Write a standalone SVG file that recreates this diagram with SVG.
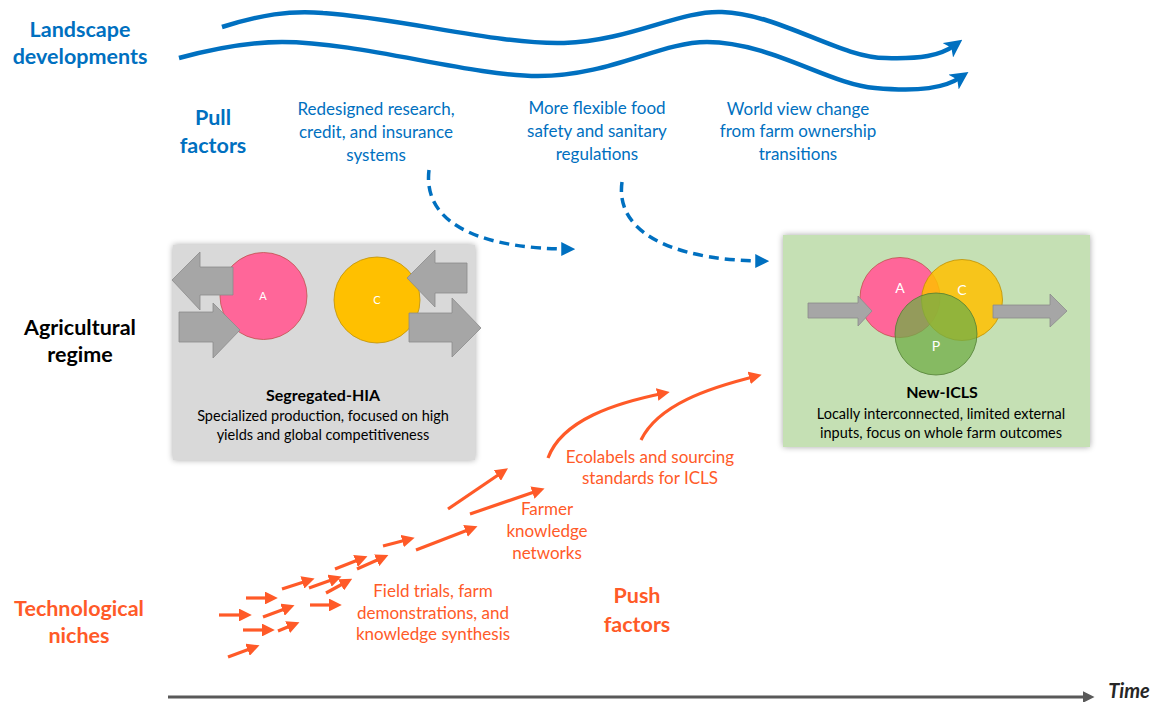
<svg xmlns="http://www.w3.org/2000/svg" width="1156" height="702" viewBox="0 0 1156 702">
<style>
text{font-family:Lato,"Liberation Sans",sans-serif}
.lbl{font-size:21.5px;font-weight:bold;text-anchor:middle}
.blue{fill:#0070C0}
.orange{fill:#FF5A28}
.black{fill:#000}
.bt{font-size:17px;text-anchor:middle;fill:#0070C0}
.ot{font-size:17px;text-anchor:middle;fill:#FF5A28}
.bx{font-size:14.5px;text-anchor:middle;fill:#000}
.bxh{font-size:16px;font-weight:bold;text-anchor:middle;fill:#000}
.garrow{fill:#A6A6A6;stroke:#8C8C8C;stroke-width:0.8}
.wave{fill:none;stroke:#0070C0;stroke-width:4.5;marker-end:url(#mb)}
.dash{fill:none;stroke:#0070C0;stroke-width:3.5;stroke-dasharray:10 6;marker-end:url(#mbd)}
.oa{fill:none;stroke:#FF5A28;stroke-width:3.2;marker-end:url(#mo)}
.cl{font-size:11px;fill:#fff;text-anchor:middle}
.cl2{font-size:14px;fill:#fff;text-anchor:middle}
</style>
<defs>
<marker id="mb" markerWidth="4" markerHeight="4" refX="2" refY="2" orient="auto" markerUnits="strokeWidth"><path d="M0,0 L4,2 L0,4 L1,2 z" fill="#0070C0"/></marker>
<marker id="mbd" markerWidth="4" markerHeight="4" refX="2.5" refY="2" orient="auto" markerUnits="strokeWidth"><path d="M0,0 L4,2 L0,4 z" fill="#0070C0"/></marker>
<marker id="mo" markerWidth="4" markerHeight="4" refX="2.5" refY="2" orient="auto" markerUnits="strokeWidth"><path d="M0,0 L4,2 L0,4 z" fill="#FF5A28"/></marker>
<marker id="mg" markerWidth="4" markerHeight="4" refX="2.5" refY="2" orient="auto" markerUnits="strokeWidth"><path d="M0,0 L4,2 L0,4 z" fill="#595959"/></marker>
<filter id="sh" x="-10%" y="-10%" width="120%" height="120%"><feGaussianBlur in="SourceAlpha" stdDeviation="3"/><feOffset dx="0" dy="0"/><feComponentTransfer><feFuncA type="linear" slope="0.35"/></feComponentTransfer><feMerge><feMergeNode/><feMergeNode in="SourceGraphic"/></feMerge></filter>
</defs>

<g id="labels">
<text class="lbl blue" x="80" y="37">Landscape</text>
<text class="lbl blue" x="80" y="64">developments</text>
<text class="lbl blue" x="213" y="125">Pull</text>
<text class="lbl blue" x="213" y="153">factors</text>
<text class="lbl black" x="80" y="335">Agricultural</text>
<text class="lbl black" x="80" y="362">regime</text>
<text class="lbl orange" x="79" y="616">Technological</text>
<text class="lbl orange" x="79" y="643">niches</text>
<text class="lbl orange" x="637" y="603">Push</text>
<text class="lbl orange" x="637" y="632">factors</text>
</g>

<g id="pull-texts">
<text class="bt" x="376" y="115">Redesigned research,</text>
<text class="bt" x="376" y="138">credit, and insurance</text>
<text class="bt" x="376" y="161">systems</text>
<text class="bt" x="597" y="114">More flexible food</text>
<text class="bt" x="597" y="137">safety and sanitary</text>
<text class="bt" x="597" y="160">regulations</text>
<text class="bt" x="798" y="115">World view change</text>
<text class="bt" x="798" y="137">from farm ownership</text>
<text class="bt" x="798" y="160">transitions</text>
</g>

<g id="push-texts">
<text class="ot" x="650" y="463">Ecolabels and sourcing</text>
<text class="ot" x="650" y="484">standards for ICLS</text>
<text class="ot" x="547" y="515">Farmer</text>
<text class="ot" x="547" y="537">knowledge</text>
<text class="ot" x="547" y="559">networks</text>
<text class="ot" x="433" y="597">Field trials, farm</text>
<text class="ot" x="433" y="619">demonstrations, and</text>
<text class="ot" x="433" y="640">knowledge synthesis</text>
</g>

<g id="segregated-hia">
<rect x="173" y="245" width="302" height="215" fill="#D9D9D9" filter="url(#sh)"/>
<circle cx="263.5" cy="296" r="43.5" fill="#FF6699" stroke="#C0504D" stroke-width="0.8"/>
<circle cx="377" cy="300" r="43" fill="#FFC000" stroke="#BF9000" stroke-width="0.8"/>
<polygon class="garrow" points="172,280 200,252 200,267 233,267 233,295 200,295 200,310"/>
<polygon class="garrow" points="179,312 213,312 213,303 240,330 213,358 213,342 179,342"/>
<polygon class="garrow" points="407,278 435,250 435,263 467,263 467,293 435,293 435,307"/>
<polygon class="garrow" points="409,313 452,313 452,298 481,328 452,357 452,342 409,342"/>
<text class="cl" x="263" y="300">A</text>
<text class="cl" x="377" y="304">C</text>
<text class="bxh" x="323" y="401">Segregated-HIA</text>
<text class="bx" x="323" y="421">Specialized production, focused on high</text>
<text class="bx" x="323" y="440">yields and global competitiveness</text>
</g>

<g id="new-icls">
<rect x="783" y="235" width="307" height="212" fill="#C5E0B4" filter="url(#sh)"/>
<circle cx="900" cy="297.5" r="40" fill="#FF6699" stroke="#C0504D" stroke-width="0.8"/>
<circle cx="962" cy="300" r="40.5" fill="#FFC000" fill-opacity="0.85" stroke="#BF9000" stroke-width="0.8"/>
<circle cx="936" cy="334" r="41" fill="#70AD47" fill-opacity="0.75" stroke="#507E32" stroke-width="0.8"/>
<polygon class="garrow" points="808,303 858,303 858,296 872,311 858,326 858,318 808,318"/>
<polygon class="garrow" points="993,305 1050,305 1050,294 1067,311 1050,327 1050,318 993,318"/>
<text class="cl2" x="900" y="293">A</text>
<text class="cl2" x="962" y="295">C</text>
<text class="cl2" x="936" y="351">P</text>
<text class="bxh" x="942" y="398">New-ICLS</text>
<text class="bx" x="941" y="419">Locally interconnected, limited external</text>
<text class="bx" x="941" y="438">inputs, focus on whole farm outcomes</text>
</g>

<g id="connectors">
<path class="wave" d="M222,27 C260,15 290,10 323,13 C400,18 500,45 564,43 C630,41 680,10 722,12 C780,14 840,58 886,58 C920,59 940,56 955,45"/>
<path class="wave" d="M179,58 C220,47 250,42 282,42 C360,42 470,76 538,76 C610,76 660,42 707,42 C770,42 830,85 875,88 C920,92 945,88 961,77"/>
<path class="dash" d="M429,170 C422,228 490,249 570,249"/>
<path class="dash" d="M622,182 C614,240 690,261 764,261"/>
<path class="oa" d="M448,509 L504,471"/>
<path class="oa" d="M470,514 L540,490"/>
<path class="oa" d="M416,550 L473,528"/>
<path class="oa" d="M383,546 L410,539"/>
<path class="oa" d="M357,569 L384,557"/>
<path class="oa" d="M335,569 L363,558"/>
<path class="oa" d="M309,588 L337,578"/>
<path class="oa" d="M326,593 L348,581"/>
<path class="oa" d="M282,589 L310,580"/>
<path class="oa" d="M246,598 L273,598"/>
<path class="oa" d="M310,605 L337,605"/>
<path class="oa" d="M263,617 L290,607"/>
<path class="oa" d="M219,615 L247,615"/>
<path class="oa" d="M243,630 L270,630"/>
<path class="oa" d="M278,631 L295,624"/>
<path class="oa" d="M228,657 L255,647"/>
<path class="oa" d="M548,458 C562,420 615,403 665,393"/>
<path class="oa" d="M641,440 C658,405 708,388 757,376"/>
<path d="M168,697 L1090,697" fill="none" stroke="#595959" stroke-width="3" marker-end="url(#mg)"/>
</g>
<text x="1129" y="698" font-size="20" font-weight="bold" font-style="italic" fill="#262626" text-anchor="middle">Time</text>
</svg>
